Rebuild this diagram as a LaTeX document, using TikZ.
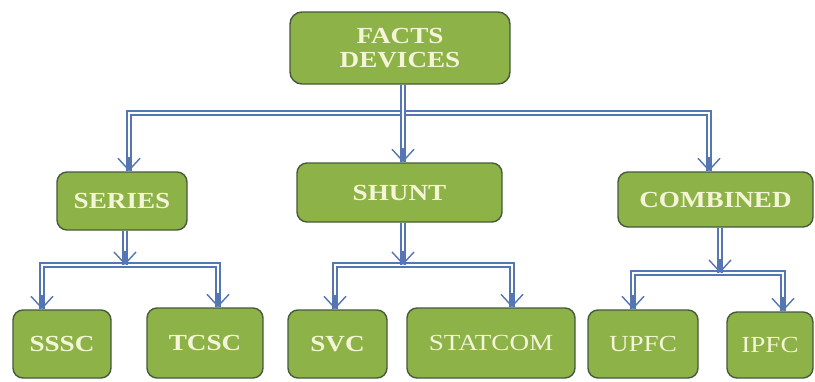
\documentclass[tikz,border=0pt]{standalone}
\usepackage{fontspec}
\setmainfont{Liberation Serif}[FakeStretch=1.18]
\usetikzlibrary{arrows.meta}
\definecolor{boxfill}{RGB}{141,178,71}
\definecolor{boxline}{RGB}{70,90,62}
\definecolor{txt}{RGB}{244,244,214}
\definecolor{conncol}{RGB}{84,118,178}
\begin{document}
\begin{tikzpicture}[x=1pt,y=-1pt,
  box/.style={draw=boxline, line width=1.4pt, fill=boxfill, rounded corners=10pt,
    text=txt, font=\fontsize{23}{24}\selectfont\bfseries, align=center, inner sep=0pt},
  lightfont/.style={font=\fontsize{23}{24}\selectfont},
  conn/.style={draw=conncol, line width=1.9pt, double=white, double distance=1.8pt},
  vtip/.style={draw=conncol, line width=1.4pt, -{Straight Barb[length=12pt,width=22pt]}}
]
\useasboundingbox[fill=white] (0,0) rectangle (815,381);
\begin{scope}
\clip (0,0) rectangle (815,381);
% nodes
\node[box, minimum width=220pt, minimum height=72pt, rounded corners=12pt] (facts) at (400,48) {FACTS\\DEVICES};
\node[box, minimum width=130pt, minimum height=58pt] (series) at (122,201) {SERIES};
\node[box, minimum width=205pt, minimum height=59pt] (shunt) at (399.5,192.5) {SHUNT};
\node[box, minimum width=195pt, minimum height=55pt] (combined) at (715.5,199.5) {COMBINED};
\node[box, minimum width=98pt, minimum height=68pt] (sssc) at (62,344) {SSSC};
\node[box, minimum width=116pt, minimum height=70pt] (tcsc) at (205,343) {TCSC};
\node[box, minimum width=99pt, minimum height=68pt] (svc) at (337.5,344) {SVC};
\node[box, lightfont, minimum width=168pt, minimum height=70pt] (statcom) at (491,343) {STATCOM};
\node[box, lightfont, minimum width=110pt, minimum height=68pt] (upfc) at (643,344) {UPFC};
\node[box, lightfont, minimum width=86pt, minimum height=66pt] (ipfc) at (770,345) {IPFC};
% junction coordinates
\coordinate (t0) at (403,113);
\coordinate (tl) at (129,113);
\coordinate (tr) at (709,113);
\coordinate (s1) at (125,265);
\coordinate (sl) at (42,265);
\coordinate (sr) at (218,265);
\coordinate (h1) at (403,265);
\coordinate (hl) at (335,265);
\coordinate (hr) at (512,265);
\coordinate (c1) at (720,273);
\coordinate (cl) at (633,273);
\coordinate (cr) at (783,273);
% arrow targets
\coordinate (aSeries) at (tl |- series.north);
\coordinate (aShunt) at (t0 |- shunt.north);
\coordinate (aComb) at (tr |- combined.north);
\coordinate (aSssc) at (sl |- sssc.north);
\coordinate (aTcsc) at (sr |- tcsc.north);
\coordinate (aSvc) at (hl |- svc.north);
\coordinate (aStat) at (hr |- statcom.north);
\coordinate (aUpfc) at (cl |- upfc.north);
\coordinate (aIpfc) at (cr |- ipfc.north);
% level 1 connectors
\draw[conn] (aSeries) -- (tl) -- (tr) -- (aComb);
\draw[conn] (facts.south -| t0) -- (aShunt);
% series
\draw[conn] (aSssc) -- (sl) -- (sr) -- (aTcsc);
\draw[conn] (series.south -| s1) -- (s1);
% shunt
\draw[conn] (aSvc) -- (hl) -- (hr) -- (aStat);
\draw[conn] (shunt.south -| h1) -- (h1);
% combined
\draw[conn] (aUpfc) -- (cl) -- (cr) -- (aIpfc);
\draw[conn] (combined.south -| c1) -- (c1);
% open arrowheads
\foreach \p in {aSeries,aShunt,aComb,aSssc,aTcsc,aSvc,aStat,aUpfc,aIpfc,s1,h1,c1}
  \draw[vtip] (\p) ++(0,-14) -- (\p);
\end{scope}
\end{tikzpicture}
\end{document}
